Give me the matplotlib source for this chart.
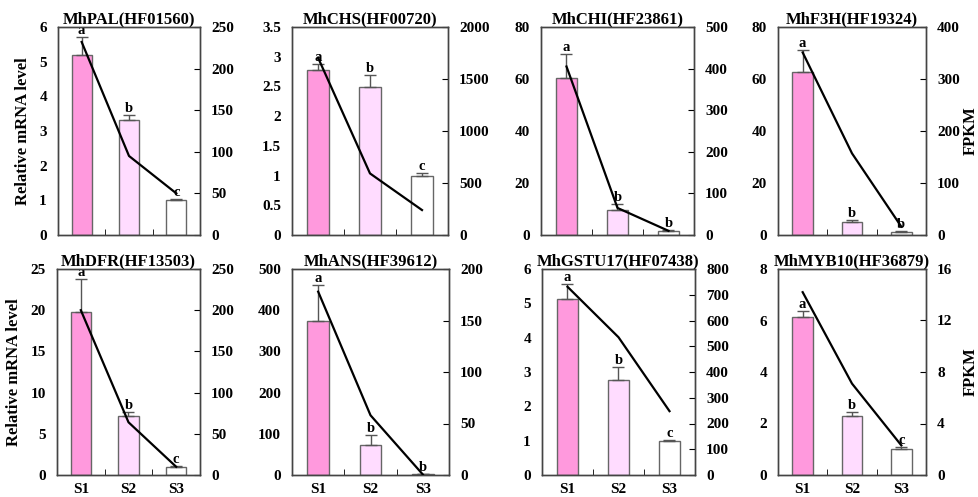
import numpy as np
import matplotlib.pyplot as plt

plt.rcParams['font.family'] = ['Liberation Serif', 'DejaVu Serif']
plt.rcParams['font.weight'] = 'bold'

stages = ['S1', 'S2', 'S3']
genes = ['MhPAL(HF01560)', 'MhCHS(HF00720)', 'MhCHI(HF23861)', 'MhF3H(HF19324)',
         'MhDFR(HF13503)', 'MhANS(HF39612)', 'MhGSTU17(HF07438)', 'MhMYB10(HF36879)']

# relative mRNA level (bars) and error
rel = [[5.2, 3.32, 1.0], [2.78, 2.49, 1.0], [60.3, 9.5, 1.5], [62.8, 5.0, 1.3],
       [19.8, 7.1, 1.0], [375, 72, 2], [5.12, 2.78, 1.0], [6.12, 2.28, 1.0]]
err = [[0.5, 0.15, 0.05], [0.1, 0.2, 0.04], [9.5, 2.5, 0.3], [8.5, 0.7, 0.3],
       [4.0, 0.5, 0.05], [85, 25, 1], [0.45, 0.37, 0.03], [0.25, 0.17, 0.1]]
letters = [['a', 'b', 'c'], ['a', 'b', 'c'], ['a', 'b', 'b'], ['a', 'b', 'b'],
           ['a', 'b', 'c'], ['a', 'b', 'b'], ['a', 'b', 'c'], ['a', 'b', 'c']]
# FPKM (line)
fpkm = [[232, 95, 50], [1706, 592, 240], [405, 65, 10], [351, 157, 16],
        [200, 64, 10], [178, 58, 0.5], [731, 535, 248], [14.2, 7.1, 2.3]]

left_ticks = [np.arange(0, 7, 1), np.arange(0, 3.6, 0.5), np.arange(0, 81, 20), np.arange(0, 81, 20),
              np.arange(0, 26, 5), np.arange(0, 501, 100), np.arange(0, 7, 1), np.arange(0, 9, 2)]
right_ticks = [np.arange(0, 251, 50), np.arange(0, 2001, 500), np.arange(0, 501, 100), np.arange(0, 401, 100),
               np.arange(0, 251, 50), np.arange(0, 201, 50), np.arange(0, 801, 100), np.arange(0, 17, 4)]

colors = ['#ff99dd', '#ffdcff', '#ffffff']

W, H = 979, 497
boxes = [(58, 27, 142, 208), (292, 27, 156, 208), (541, 27, 153, 208), (778, 27, 148, 208),
         (57, 269, 143, 206), (292, 269, 157, 206), (542, 269, 153, 206), (778, 269, 148, 206)]

fig = plt.figure(figsize=(W / 100, H / 100), dpi=100)
x = np.arange(1, 4)

for i in range(8):
    l, t, w, h = boxes[i]
    ax = fig.add_axes([l / W, 1 - (t + h) / H, w / W, h / H])
    ax.bar(x, rel[i], width=0.42, color=colors, edgecolor='#666666', linewidth=1.0, zorder=2)
    ax.errorbar(x, rel[i], yerr=[np.zeros(3), err[i]], fmt='none', ecolor='#555555',
                elinewidth=1.0, capsize=4, capthick=1.0, zorder=3)
    lt = left_ticks[i]
    ax.set_ylim(0, lt[-1])
    ax.set_yticks(lt)
    ax.set_yticklabels([('%g' % v) for v in lt], fontsize=11, fontweight='bold')
    ax.set_xlim(0.5, 3.5)
    ax.set_xticks(x)
    ax.set_xticks([1.5, 2.5], minor=True)
    ax.tick_params(axis='x', which='major', length=0, pad=6)
    ax.tick_params(axis='x', which='minor', direction='in', length=4)
    ax.tick_params(axis='y', length=0, pad=8)
    if i >= 4:
        ax.set_xticklabels(stages, fontsize=11, fontweight='bold')
    else:
        ax.set_xticklabels([])
    for j in range(3):
        ax.text(x[j], rel[i][j] + err[i][j], letters[i][j], ha='center', va='bottom',
                fontsize=10.5, fontweight='bold', zorder=4)
    ax.set_title(genes[i], fontsize=12, fontweight='bold', pad=2)
    if i % 4 == 0:
        ax.set_ylabel('Relative mRNA level', fontsize=12, fontweight='bold', labelpad=6)

    ax2 = ax.twinx()
    rt = right_ticks[i]
    ax2.plot(x, fpkm[i], color='black', linewidth=1.6, zorder=5)
    ax2.set_ylim(0, rt[-1])
    ax2.set_yticks(rt)
    ax2.set_yticklabels([('%g' % v) for v in rt], fontsize=11, fontweight='bold')
    ax2.tick_params(axis='y', direction='in', length=4, pad=8)
    if i % 4 == 3:
        ax2.set_ylabel('FPKM', fontsize=12, fontweight='bold')
        ax2.yaxis.set_label_coords(1.25, 0.5)
    for a in (ax, ax2):
        for s in a.spines.values():
            s.set_color('#444444')
            s.set_linewidth(1.0)

fig.savefig('out.png', dpi=100)
